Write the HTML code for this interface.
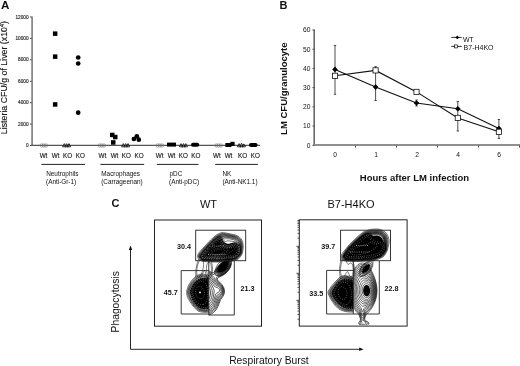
<!DOCTYPE html>
<html><head><meta charset="utf-8">
<style>
html,body{margin:0;padding:0;background:#fff;width:520px;height:366px;overflow:hidden}
svg{display:block;-webkit-font-smoothing:antialiased;will-change:transform}
text{font-family:"Liberation Sans",sans-serif;fill:#111}
.b{font-weight:bold}
</style></head><body>
<svg width="520" height="366" viewBox="0 0 520 366">
<!-- ===== Panel A ===== -->
<text class="b" x="0.9" y="8.8" font-size="11.6">A</text>
<line x1="32.1" y1="16.5" x2="32.1" y2="145.3" stroke="#8a8a8a" stroke-width="1.8"/>
<line x1="31.2" y1="145.3" x2="260" y2="145.3" stroke="#555" stroke-width="1.3"/>
<g stroke="#4a4a4a" stroke-width="1" fill="none">
  <path d="M30 17H31.75M30 38.4H31.75M30 59.8H31.75M30 81.3H31.75M30 102.7H31.75M30 124.1H31.75M30 145.5H31.75"/>
</g>
<g font-size="4.7" text-anchor="end" fill="#222" stroke="#444" stroke-width="0.18">
  <text x="28.5" y="18.6">12000</text>
  <text x="28.5" y="40">10000</text>
  <text x="28.5" y="61.4">8000</text>
  <text x="28.5" y="82.9">6000</text>
  <text x="28.5" y="104.3">4000</text>
  <text x="28.5" y="125.7">2000</text>
  <text x="28.5" y="147.1">0</text>
</g>
<text transform="translate(6.9,77.6) rotate(-90)" font-size="8.8" text-anchor="middle" stroke="#222" stroke-width="0.15">Listeria CFU/g of Liver (x10<tspan font-size="5.5" dy="-3">4</tspan><tspan dy="3">)</tspan></text>
<!-- markers group 1 -->
<g fill="#000">
  <rect x="52.9" y="31.4" width="4.5" height="4.5"/>
  <rect x="52.9" y="54.4" width="4.5" height="4.5"/>
  <rect x="52.9" y="102.2" width="4.5" height="4.5"/>
  <circle cx="78.2" cy="57.5" r="2.35"/>
  <circle cx="78.2" cy="63.5" r="2.35"/>
  <circle cx="78.2" cy="112.7" r="2.35"/>
  <!-- group 2 -->
  <rect x="110.0" y="132.7" width="4.5" height="4.5"/>
  <rect x="113.0" y="134.8" width="4.5" height="4.5"/>
  <rect x="111.0" y="140.2" width="4.5" height="4.5"/>
  <circle cx="136.8" cy="136.3" r="2.35"/>
  <circle cx="133.9" cy="139" r="2.35"/>
  <circle cx="138.8" cy="139.7" r="2.35"/>
  <!-- group 3 -->
  <rect x="167" y="142.6" width="9" height="4"/>
  <rect x="191" y="142.7" width="8.2" height="4" rx="2"/>
  <!-- group 4 -->
  <rect x="225.4" y="143" width="6" height="4"/>
  <rect x="230.4" y="141.8" width="4.2" height="4.2"/>
  <rect x="249" y="142.9" width="8.6" height="4" rx="2"/>
</g>
<g fill="none" stroke="#777" stroke-width="0.6">
  <circle cx="41.6" cy="145.5" r="1.7"/><circle cx="43.8" cy="145.5" r="1.7"/><circle cx="46" cy="145.5" r="1.7"/>
  <circle cx="99.6" cy="145.5" r="1.7"/><circle cx="101.8" cy="145.5" r="1.7"/><circle cx="104" cy="145.5" r="1.7"/>
  <circle cx="157.6" cy="145.5" r="1.7"/><circle cx="159.8" cy="145.5" r="1.7"/><circle cx="162" cy="145.5" r="1.7"/>
  <circle cx="216.4" cy="145.5" r="1.7"/><circle cx="218.6" cy="145.5" r="1.7"/><circle cx="220.8" cy="145.5" r="1.7"/>
</g>
<g fill="none" stroke="#111" stroke-width="0.85">
  <path d="M62.6 146.8L64.3 143.6L66 146.8ZM65 146.8L66.7 143.6L68.4 146.8ZM67.3 146.8L69 143.6L70.7 146.8Z"/>
  <path d="M121.6 146.8L123.3 143.6L125 146.8ZM124 146.8L125.7 143.6L127.4 146.8ZM126.3 146.8L128 143.6L129.7 146.8Z"/>
  <path d="M179.4 146.8L181.1 143.6L182.8 146.8ZM181.8 146.8L183.5 143.6L185.2 146.8ZM184.1 146.8L185.8 143.6L187.5 146.8Z"/>
  <path d="M237.4 146.8L239.1 143.6L240.8 146.8ZM239.8 146.8L241.5 143.2L243.2 146.8ZM242.1 146.8L243.8 143.9L245.5 146.8Z"/>
</g>
<!-- category labels -->
<g font-size="6.3" text-anchor="middle" fill="#222" stroke="#333" stroke-width="0.15">
  <text x="43.5" y="157.8">Wt</text><text x="55.6" y="157.8">Wt</text><text x="67.5" y="157.8">KO</text><text x="80.3" y="157.8">KO</text>
  <text x="102.4" y="157.8">Wt</text><text x="114.5" y="157.8">Wt</text><text x="126.4" y="157.8">KO</text><text x="139.1" y="157.8">KO</text>
  <text x="159.7" y="157.8">Wt</text><text x="171.5" y="157.8">Wt</text><text x="183.4" y="157.8">KO</text><text x="195.8" y="157.8">KO</text>
  <text x="216.9" y="157.8">Wt</text><text x="228.5" y="157.8">Wt</text><text x="242.5" y="157.8">KO</text><text x="255.3" y="157.8">KO</text>
</g>
<g stroke="#222" stroke-width="1">
  <line x1="41.4" y1="164.4" x2="85" y2="164.4"/>
  <line x1="100.4" y1="164.4" x2="144.2" y2="164.4"/>
  <line x1="156.9" y1="164.4" x2="198.5" y2="164.4"/>
  <line x1="215.2" y1="164.4" x2="257.9" y2="164.4"/>
</g>
<g font-size="6.4" fill="#222">
  <text x="46.2" y="175.9">Neutrophils</text><text x="46" y="183.6">(Anti-Gr-1)</text>
  <text x="101.3" y="175.9">Macrophages</text><text x="101.2" y="183.6">(Carrageenan)</text>
  <text x="169.5" y="175.9">pDC</text><text x="169" y="183.6">(Anti-pDC)</text>
  <text x="222.4" y="175.9">NK</text><text x="222.4" y="183.6">(Anti-NK1.1)</text>
</g>

<!-- ===== Panel B ===== -->
<text class="b" x="279.6" y="8.6" font-size="11">B</text>
<line x1="314.2" y1="29.5" x2="314.2" y2="145.5" stroke="#6a6a6a" stroke-width="1.6"/>
<line x1="313.4" y1="145" x2="520" y2="145" stroke="#909090" stroke-width="2.1"/>
<g stroke="#4a4a4a" stroke-width="1" fill="none">
  <path d="M312.5 30H314.5M312.5 49.2H314.5M312.5 68.4H314.5M312.5 87.6H314.5M312.5 106.8H314.5M312.5 126H314.5M312.5 145.3H314.5"/>
  <path d="M355.5 145.5V147.5M396.5 145.5V147.5M437.5 145.5V147.5M478.5 145.5V147.5M519.5 145.5V147.5"/>
</g>
<g font-size="6.7" text-anchor="end" fill="#222">
  <text x="310.5" y="32.4">60</text>
  <text x="310.5" y="51.6">50</text>
  <text x="310.5" y="70.8">40</text>
  <text x="310.5" y="90">30</text>
  <text x="310.5" y="109.2">20</text>
  <text x="310.5" y="128.4">10</text>
  <text x="310.5" y="147.7">0</text>
</g>
<g font-size="6.7" text-anchor="middle" fill="#222">
  <text x="335" y="157.2">0</text>
  <text x="376" y="157.2">1</text>
  <text x="417" y="157.2">2</text>
  <text x="458" y="157.2">4</text>
  <text x="499" y="157.2">6</text>
</g>
<text class="b" transform="translate(286.6,88.7) rotate(-90)" font-size="9.5" text-anchor="middle">LM CFU/granulocyte</text>
<text class="b" x="414.5" y="181.2" font-size="9.5" text-anchor="middle">Hours after LM infection</text>
<!-- error bars -->
<g stroke="#222" stroke-width="0.8" fill="none">
  <path d="M335 45.5V94.3M333.8 45.5H336.2M333.8 94.3H336.2"/>
  <path d="M375.6 66.6V100.5M374.4 66.6H376.8M374.4 100.5H376.8"/>
  <path d="M416.5 100V106M415.3 100H417.7M415.3 106H417.7"/>
  <path d="M457.8 101.5V131M456.6 101.5H459M456.6 131H459"/>
  <path d="M498.9 119.5V138.4M497.7 119.5H500.1M497.7 138.4H500.1"/>
</g>
<!-- lines -->
<g stroke="#111" stroke-width="1.1" fill="none">
  <polyline points="335,69.4 375.6,87.1 416.5,103 457.8,108.7 498.9,128.5"/>
  <polyline points="335,75.8 375.6,70.4 416.5,91.9 457.8,117.9 498.9,131.8"/>
</g>
<g fill="#000">
  <path d="M335 66.6L337.8 69.4L335 72.2L332.2 69.4Z"/>
  <path d="M375.6 84.3L378.4 87.1L375.6 89.9L372.8 87.1Z"/>
  <path d="M416.5 100.2L419.3 103L416.5 105.8L413.7 103Z"/>
  <path d="M457.8 105.9L460.6 108.7L457.8 111.5L455 108.7Z"/>
  <path d="M498.9 125.7L501.7 128.5L498.9 131.3L496.1 128.5Z"/>
</g>
<g fill="#fff" stroke="#111" stroke-width="0.8">
  <rect x="332.4" y="73.2" width="5.2" height="5.2"/>
  <rect x="373" y="67.8" width="5.2" height="5.2"/>
  <rect x="413.9" y="89.3" width="5.2" height="5.2"/>
  <rect x="455.2" y="115.3" width="5.2" height="5.2"/>
  <rect x="496.3" y="129.2" width="5.2" height="5.2"/>
</g>
<!-- legend -->
<g stroke="#111" stroke-width="0.9">
  <line x1="451.3" y1="37.4" x2="461.7" y2="37.4"/>
  <line x1="451.3" y1="46.4" x2="461.7" y2="46.4"/>
</g>
<path d="M457.3 35.6L459.1 37.4L457.3 39.2L455.5 37.4Z" fill="#000"/>
<rect x="454.6" y="44.9" width="3" height="3" fill="#fff" stroke="#111" stroke-width="0.7"/>
<g font-size="7" fill="#111">
  <text x="463" y="42">WT</text>
  <text x="463.6" y="50.3">B7-H4KO</text>
</g>

<!-- ===== Panel C ===== -->
<text class="b" x="111.4" y="206.9" font-size="11">C</text>
<text x="208.5" y="208.2" font-size="11" text-anchor="middle">WT</text>
<text x="351" y="208.2" font-size="11" text-anchor="middle">B7-H4KO</text>
<!-- outer boxes -->
<g fill="none" stroke="#222" stroke-width="1">
  <rect x="154.5" y="220" width="107" height="106.2"/>
  <rect x="299.3" y="219.8" width="107.8" height="106.3"/>
</g>
<!-- KO y ticks -->
<path d="M297.5 319.2H299M297.5 314.4H299M297.5 311.0H299M297.5 308.4H299M297.5 306.3H299M297.5 304.5H299M297.5 302.9H299M297.5 301.5H299M296.4 300.3H299M297.5 292.2H299M297.5 287.4H299M297.5 284.0H299M297.5 281.4H299M297.5 279.3H299M297.5 277.5H299M297.5 275.9H299M297.5 274.5H299M296.4 273.3H299M297.5 265.2H299M297.5 260.4H299M297.5 257.0H299M297.5 254.4H299M297.5 252.3H299M297.5 250.5H299M297.5 248.9H299M297.5 247.5H299M296.4 246.3H299M297.5 238.2H299M297.5 233.4H299M297.5 230.0H299M297.5 227.4H299M297.5 225.3H299M297.5 223.5H299M297.5 221.9H299M297.5 220.5H299" stroke="#222" stroke-width="0.8"/>
<!-- WT contours -->
<defs><clipPath id="k1"><rect x="185" y="259" width="31" height="20"/></clipPath><clipPath id="k2"><rect x="150" y="258" width="58.75" height="72"/></clipPath><clipPath id="k3"><rect x="208.75" y="258" width="56.25" height="72"/></clipPath><clipPath id="k4"><rect x="330" y="259" width="30" height="20"/></clipPath><clipPath id="k5"><rect x="295" y="258" width="58.30000000000001" height="72"/></clipPath><clipPath id="k6"><rect x="353.3" y="258" width="56.69999999999999" height="72"/></clipPath></defs>
<g><path d="M223.2 259.3l-11.4 .1l-7.8 -.5l-1.2 -.3l-1.0 -.6l-.5 -.8l-.2 -1.0l.3 -1.0l.8 -1.2l4.3 -5.4l7.0 -7.2l3.3 -2.6l1.7 -1.0l1.7 -.2l1.3 .4l1.0 1.0l1.0 2.2l.6 .8l1.1 .8l2.0 .9l1.8 0l4.5 -1.3l1.3 -.1l1.7 .5l1.7 1.2l1.0 1.2l.5 1.3l.1 4.7l-.6 2.3l-1.8 2.5l-1.9 1.3l-3.7 1.1l-3.3 .6l-5.3 .3z" fill="#000"/><path d="M225.8 259.3l-13.6 .2l-8.2 -.5l-1.2 -.3l-1.0 -.6l-.7 -.9l-.1 -1.0l.7 -1.7l3.4 -4.5l7.4 -7.8l4.7 -3.9l1.8 -.8l1.5 -.1l1.0 .3l.7 .5l1.8 2.6l1.0 .7l.6 0l1.9 -.6l1.5 0l5.5 .7l1.5 .5l1.2 .7l1.3 1.2l.8 1.0l.5 1.2l.2 3.6l-.3 2.7l-.7 1.7l-1.8 2.1l-1.4 1.1l-1.8 .6l-4.5 .9l-3.7 .4zM223.8 259.5l-12.0 .1l-8.0 -.5l-1.3 -.3l-1.0 -.7l-.6 -.9l-.1 -1.0l.3 -1.0l.7 -1.2l4.2 -5.2l7.0 -7.3l3.2 -2.7l1.8 -1.1l1.5 -.5l1.5 0l1.0 .3l2.2 1.4l2.8 -.2l3.1 .3l3.7 .8l2.2 1.1l1.2 1.0l1.6 1.8l.8 1.3l.4 1.2l.2 1.8l-.1 3.5l-.3 1.5l-.6 1.2l-2.2 2.5l-2.0 1.1l-5.8 1.4l-5.4 .3zM217.8 259.8l-8.8 -.1l-5.8 -.5l-1.2 -.5l-.9 -.7l-.5 -1.0l0 -1.0l.8 -1.8l2.7 -3.4l5.4 -6.0l4.7 -4.6l2.6 -2.0l1.4 -.9l1.6 -.4l1.2 -.1l2.8 .6l3.0 .1l3.2 .5l5.0 1.2l1.2 .7l1.0 .8l1.0 1.3l1.6 2.8l.4 1.4l.1 1.6l0 3.4l-.4 1.8l-.7 1.5l-1.7 2.0l-1.0 .8l-1.3 .6l-5.7 1.4l-5.0 .3l-6.7 .2zM225.5 259.8l-13.0 .1l-8.7 -.4l-1.6 -.5l-1.1 -.8l-.6 -1.0l-.1 -1.2l.4 -1.0l.7 -1.2l4.5 -5.6l7.0 -7.2l3.2 -2.7l1.8 -1.1l1.5 -.5l1.5 -.3l4.5 .2l6.6 1.2l2.4 .6l1.5 .6l1.4 1.0l1.1 1.3l.7 1.4l1.1 2.8l.2 1.7l0 3.6l-.3 1.7l-.4 1.3l-.8 1.2l-1.2 1.5l-1.0 .8l-1.0 .6l-5.8 1.5l-4.5 .4zM225.0 260.0l-12.8 .1l-8.7 -.5l-1.5 -.4l-1.2 -1.0l-.6 -1.0l-.1 -1.2l.3 -1.0l.8 -1.2l4.6 -5.6l7.0 -7.3l3.2 -2.7l2.0 -1.3l3.2 -1.0l2.9 -.1l7.4 1.2l3.0 .8l1.7 .6l1.6 1.1l1.2 1.5l.8 1.5l.8 2.7l.2 2.0l-.1 3.8l-.3 1.8l-.5 1.2l-2.1 2.8l-1.0 .8l-1.0 .5l-5.8 1.5l-5.0 .4zM224.8 260.3l-12.3 .1l-9.0 -.5l-1.7 -.6l-1.3 -1.0l-.7 -1.3l0 -1.2l.7 -1.6l1.9 -2.4l2.7 -3.3l4.2 -4.5l2.9 -3.0l2.6 -2.2l1.7 -1.4l1.7 -1.0l3.3 -1.1l2.5 -.2l7.7 1.4l3.1 .8l1.7 .6l1.5 1.1l1.5 1.8l.7 1.4l.6 2.3l.3 2.5l-.1 3.8l-.3 2.0l-.6 1.4l-2.2 2.8l-1.1 .9l-1.0 .5l-5.8 1.5l-5.2 .4zM225.5 260.5l-11.3 .2l-6.2 -.2l-4.8 -.4l-1.7 -.6l-1.3 -1.0l-.7 -1.3l-.1 -1.4l.7 -1.6l1.3 -1.7l3.3 -4.0l4.4 -4.7l2.9 -3.0l2.8 -2.4l2.0 -1.6l1.4 -.9l3.0 -1.1l2.6 -.2l7.4 1.3l3.6 .8l1.7 .7l1.5 .9l1.4 1.5l.9 1.4l.6 1.8l.5 2.5l.1 2.0l-.4 4.5l-.6 2.0l-.9 1.5l-1.3 1.5l-1.1 .9l-1.2 .7l-5.8 1.5l-4.7 .4zM217.2 261.0l-9.0 -.2l-4.2 -.3l-1.8 -.3l-1.4 -.8l-1.2 -1.2l-.6 -1.4l.1 -1.6l.9 -1.7l3.5 -4.3l7.7 -8.1l5.0 -4.5l3.6 -1.9l1.4 -.5l1.6 -.2l5.0 .7l7.7 1.7l1.7 .8l1.6 1.1l1.4 1.7l.9 1.8l.6 2.4l.2 2.8l-.3 4.2l-.4 2.0l-.9 1.8l-1.8 2.2l-1.3 1.1l-1.4 .8l-5.8 1.4l-3.0 .3l-9.8 .2zM226.2 261.3l-11.4 .2l-7.0 -.3l-4.8 -.4l-2.0 -.7l-1.7 -1.3l-.8 -1.6l0 -1.7l.6 -1.5l1.0 -1.5l4.1 -4.7l4.7 -5.0l3.1 -3.1l3.0 -2.7l1.8 -1.3l1.7 -1.0l2.7 -1.1l2.6 -.2l7.0 1.3l5.7 1.5l1.7 .9l1.6 1.4l1.3 1.7l.8 2.0l.5 2.8l.1 2.2l-.6 4.8l-.5 2.0l-.9 1.5l-1.4 1.7l-1.1 1.1l-1.2 .8l-2.0 .7l-4.0 1.1l-4.6 .4zM219.2 262.0l-4.0 .1l-7.0 -.3l-4.2 -.3l-2.2 -.4l-2.2 -1.1l-1.4 -1.5l-.6 -1.7l.2 -2.0l.8 -1.6l1.8 -2.2l3.8 -4.2l6.4 -6.8l4.9 -4.4l1.5 -1.0l2.2 -1.2l2.8 -.8l1.5 0l2.0 .3l9.7 2.0l2.0 .7l1.8 1.1l1.8 1.8l1.3 2.0l.7 2.3l.4 2.7l0 2.7l-.8 4.8l-.8 2.0l-1.2 1.8l-1.6 1.8l-1.6 1.0l-1.7 .7l-3.7 1.0l-3.6 .6l-9.0 .1z" fill="none" stroke="#000" stroke-width="0.55"/><path d="M216.5 259.0l-7.3 -.1l-5.2 -.3l-1.0 -.3l-.8 -.4l-.5 -.7l-.1 -.7l.2 -1.0l.6 -1.0l3.8 -5.0l7.0 -7.3l4.3 -3.4l1.0 -.5l1.0 -.2l.7 0l.8 .3l.7 .8l1.0 2.6l.7 1.0l1.6 1.2l2.0 1.1l1.2 .2l1.8 -.2l1.2 -.4l2.6 -1.1l1.4 -.2l1.0 .2l1.0 .5l1.0 .8l.7 .9l.4 1.0l.1 1.2l0 3.0l-.2 1.5l-.4 1.0l-.8 1.2l-1.2 1.3l-1.0 .8l-2.0 .7l-5.3 1.1l-4.5 .3l-7.5 .1zM219.0 258.5l-8.5 .1l-6.3 -.5l-1.0 -.2l-.6 -.4l-.3 -.5l-.1 -.8l.3 -.9l.7 -1.2l3.8 -4.8l7.0 -7.1l3.0 -2.5l1.8 -.9l1.2 -.1l.8 .5l.4 .6l.9 2.2l.7 1.1l1.7 1.4l2.3 1.4l1.4 .2l2.0 -.3l1.6 -.4l2.2 -1.1l1.0 -.2l1.8 .5l1.0 .7l.6 .7l.4 .9l.1 1.1l.1 2.8l-.2 1.6l-1.0 1.9l-2.0 1.9l-2.0 .8l-4.8 1.0l-4.8 .4l-5.2 .1zM217.5 258.0l-7.5 0l-5.2 -.4l-1.4 -.4l-.4 -.4l-.1 -.6l.2 -.7l.7 -1.1l3.4 -4.4l6.8 -6.9l4.0 -3.2l1.2 -.4l.9 .3l.6 .7l.9 2.3l.8 1.0l2.6 1.9l1.8 .9l1.4 .2l2.0 -.3l4.8 -1.6l1.5 .3l.8 .6l.6 .7l.4 1.7l0 2.8l-.2 1.2l-1.1 2.0l-1.8 1.6l-2.1 .7l-4.9 1.0l-10.7 .5zM217.8 257.3l-5.3 .1l-4.2 -.2l-3.5 -.4l-.5 -.3l-.2 -.5l.2 -.8l.7 -1.2l2.8 -3.4l6.7 -6.2l3.8 -3.2l.7 -.2l.5 .2l1.1 2.0l.8 1.0l3.6 2.3l1.8 .8l1.4 .2l2.3 -.2l1.5 -.4l2.0 -.9l1.0 -.2l1.2 .3l.9 .9l.2 1.8l-.5 3.2l-1.0 1.6l-1.6 1.1l-5.8 1.5l-4.6 .6l-6.0 .5zM216.5 256.8l-4.3 .1l-3.4 -.2l-2.8 -.7l-.4 -.2l-.1 -.6l.5 -1.2l1.5 -2.0l1.3 -1.3l2.0 -1.5l2.7 -1.4l6.7 -2.3l.8 0l1.0 .2l4.0 1.9l1.8 .4l3.7 -.2l3.3 -1.1l.5 .1l.5 .4l.1 .8l-.7 .7l-6.4 4.4l-2.4 1.4l-2.2 .9l-2.1 .6l-5.6 .8zM215.0 256.0l-3.0 0l-2.2 -.5l-1.0 -.7l-.2 -.6l.1 -.7l.5 -.7l.9 -1.0l2.9 -1.8l3.5 -1.4l5.0 -1.2l1.3 -.1l1.1 .2l3.6 1.5l.6 .5l-.1 .7l-1.1 1.3l-1.6 1.3l-2.1 1.1l-4.0 1.5l-4.2 .6zM216.5 254.8l-2.3 0l-1.4 -.2l-.9 -.6l-.2 -.5l.1 -.5l.7 -1.0l1.5 -1.0l1.8 -.8l2.0 -.7l2.4 -.4l2.3 -.1l1.3 .2l.8 .6l.1 .7l-.4 .7l-1.8 1.6l-2.7 1.2l-3.3 .8z" fill="none" stroke="#fff" stroke-width="0.38" stroke-dasharray="0.8 1.5"/></g>
<g clip-path="url(#k1)"><path d="M198.8 277.3l-.6 -.1l-.6 -.4l-.7 -2.0l-.2 -3.3l.4 -3.7l.8 -3.8l1.3 -3.0l1.3 -1.9l.7 -.4l.6 0l.4 .3l.6 .6l.6 1.9l.2 2.7l-.2 3.0l-.9 3.8l-1.3 3.2l-1.2 2.1l-.8 .7l-.4 .3zM209.0 275.8l-.5 -.2l-.5 -.4l-.8 -1.4l-.6 -2.6l-.2 -3.0l.2 -2.2l.5 -2.0l.9 -1.4l.5 -.4l.5 0l.5 .1l.5 .5l.8 1.5l.5 2.2l.1 2.5l-.1 2.5l-.6 2.3l-.7 1.4l-.5 .4l-.5 .2zM198.8 280.1l-1.0 .1l-.8 -.4l-.5 -.9l-.5 -1.4l-.4 -4.0l.4 -4.7l1.1 -5.3l1.5 -4.3l.9 -1.5l1.0 -1.2l1.0 -.7l.7 -.1l.8 .4l.5 .7l1.5 3.2l.5 .8l.5 0l1.8 -1.4l1.0 -.3l1.0 .3l1.0 1.1l.9 2.3l.6 3.2l.2 3.5l-.3 3.3l-.5 2.4l-.8 2.0l-1.1 1.4l-1.0 .2l-1.0 -.6l-.8 -1.1l-.9 -2.1l-1.1 -3.9l-.2 -.4l-.3 -.1l-.3 .1l-.7 1.2l-2.7 5.9l-1.0 1.5l-1.0 .8z" fill="none" stroke="#000" stroke-width="0.5"/></g>
<g><path d="M220.8 272.5l-1.6 .2l-1.0 -.1l-.4 -.3l-.3 -.5l0 -1.3l.4 -1.7l.7 -1.8l1.0 -1.8l1.6 -1.6l2.8 -1.6l2.8 -.7l1.0 0l.7 .2l.4 1.0l-.2 2.0l-.8 2.3l-1.1 2.0l-.8 1.0l-1.5 1.1l-2.0 1.0l-1.7 .6z" fill="#000"/><path d="M219.8 273.3l-1.6 .1l-1.0 -.3l-.3 -.6l-.1 -.7l.1 -1.6l.6 -2.0l1.0 -2.0l1.1 -1.7l.9 -.9l1.3 -.9l3.0 -1.5l2.7 -.6l1.0 .1l.7 .3l.4 1.5l-.4 2.3l-1.0 2.4l-1.4 2.3l-1.0 1.0l-2.0 1.3l-2.0 .9l-2.0 .6zM219.0 275.3l-2.0 .2l-1.5 -.3l-.5 -.5l-.3 -1.2l.2 -2.3l.7 -2.4l1.2 -2.6l1.4 -2.2l1.0 -1.2l1.6 -1.2l2.0 -1.2l2.2 -1.0l2.0 -.6l1.8 -.3l1.4 .1l1.0 .4l.4 .8l.1 1.2l-.5 3.0l-1.3 3.2l-1.7 2.8l-1.4 1.5l-2.3 1.6l-2.7 1.3l-2.8 .9z" fill="none" stroke="#000" stroke-width="0.6"/></g>
<g clip-path="url(#k2)"><path d="M206.5 309.5l-2.7 .1l-3.6 -.8l-1.7 -1.0l-2.5 -2.2l-1.9 -2.4l-2.3 -4.0l-1.1 -3.0l-.9 -3.2l0 -1.8l.4 -1.7l1.4 -3.5l1.2 -2.0l2.2 -2.6l1.8 -1.5l2.4 -1.4l2.3 -.6l3.7 -.2l2.8 .4l.8 .3l.6 .6l.6 1.5l.3 12.7l-.2 13.0l-.3 1.4l-.8 1.0l-1.0 .6l-1.5 .3z" fill="#000"/><path d="M205.8 310.0l-2.8 -.1l-3.0 -.7l-1.8 -1.1l-2.4 -2.2l-1.9 -2.4l-2.5 -4.3l-1.3 -3.2l-.7 -3.0l0 -2.0l.5 -2.0l1.5 -3.5l1.4 -2.1l2.2 -2.6l1.8 -1.5l2.4 -1.4l2.3 -.6l4.0 0l2.7 .5l.8 .4l.6 .6l.5 .7l.2 1.0l.2 13.5l-.2 12.5l-.4 1.5l-.9 1.1l-1.2 .6l-2.0 .3zM207.2 310.3l-3.0 .1l-3.4 -.5l-1.8 -.7l-2.0 -1.6l-2.6 -2.6l-2.6 -4.0l-1.6 -3.2l-1.2 -3.6l-.2 -2.2l.2 -1.8l1.4 -3.7l1.2 -2.3l2.2 -3.0l2.0 -1.9l2.4 -1.7l2.3 -.8l3.0 -.2l4.5 .7l1.0 .4l.7 .5l.5 .8l.3 1.0l.2 2.0l.1 10.8l-.2 13.7l-.4 1.5l-.7 1.2l-1.0 .7l-1.3 .4zM207.5 310.8l-3.3 .1l-3.4 -.5l-1.8 -.7l-2.0 -1.4l-2.7 -2.8l-2.9 -4.3l-1.9 -3.7l-1.0 -3.0l-.3 -2.3l.2 -2.0l1.5 -4.0l1.2 -2.2l2.4 -3.2l2.0 -2.1l2.5 -1.8l2.5 -.9l2.7 -.1l5.0 1.0l1.0 .5l.8 .7l.5 .9l.3 1.0l.3 13.0l-.2 13.5l-.3 1.5l-.8 1.5l-1.0 .9l-1.3 .4zM207.0 311.5l-3.2 0l-3.8 -.7l-1.8 -.8l-2.0 -1.6l-2.3 -2.4l-3.5 -5.2l-2.0 -4.0l-.7 -2.3l-.2 -2.5l.3 -2.0l1.6 -4.2l1.2 -2.3l2.6 -3.5l2.3 -2.2l2.5 -1.8l2.5 -.8l1.5 -.1l1.5 .1l3.5 .6l1.8 .6l1.0 .6l.6 .8l.8 2.0l.2 2.0l.1 11.0l-.2 14.0l-.5 2.0l-1.0 1.7l-1.0 .6l-1.8 .4zM207.8 312.3l-3.6 .1l-3.4 -.5l-2.3 -.7l-1.7 -1.2l-3.1 -3.0l-3.6 -5.0l-2.3 -4.2l-.9 -2.8l-.3 -2.8l.2 -2.0l1.5 -4.2l1.3 -2.5l2.9 -4.0l2.0 -2.1l2.7 -2.1l2.8 -.9l1.8 -.3l1.4 .1l3.6 .7l2.2 .7l1.0 .6l.8 .8l.6 1.0l.4 1.5l.2 2.0l.1 12.0l-.2 13.5l-.5 2.2l-.9 1.8l-1.0 .8l-1.7 .5z" fill="none" stroke="#000" stroke-width="0.55"/><path d="M206.0 309.0l-2.8 -.1l-3.0 -.7l-1.7 -1.1l-2.5 -2.2l-1.6 -2.1l-2.1 -3.8l-1.1 -3.2l-.8 -3.3l0 -1.7l.8 -2.3l1.2 -2.7l1.4 -2.0l2.0 -2.3l1.7 -1.3l2.5 -1.2l2.0 -.5l3.5 -.2l2.5 .3l1.2 .9l.5 1.5l.2 13.2l-.2 12.0l-.4 1.3l-.7 .7l-1.1 .5l-1.5 .3zM206.2 307.5l-2.4 .1l-2.8 -.6l-1.7 -1.0l-2.3 -2.0l-1.5 -1.9l-2.0 -3.5l-1.0 -2.8l-.8 -3.0l0 -1.6l.3 -1.3l1.2 -3.1l1.0 -1.7l1.8 -2.0l1.5 -1.3l1.8 -1.0l2.2 -.8l3.0 -.2l2.5 .1l1.0 .5l.5 1.1l.4 12.0l-.3 11.7l-.3 1.0l-.3 .6l-.7 .4l-1.1 .3zM203.2 304.5l-1.4 .2l-1.3 -.2l-1.8 -1.0l-1.7 -1.5l-1.5 -2.1l-1.3 -2.4l-1.0 -3.0l-.4 -2.3l.1 -1.4l.6 -2.1l.7 -1.7l1.0 -1.5l1.6 -1.7l1.3 -1.0l1.5 -.8l1.6 -.4l1.3 .1l1.3 .4l1.0 .7l1.0 1.1l.7 1.2l.5 1.4l.6 3.5l.1 5.8l-.2 2.4l-.5 2.5l-.5 1.3l-.7 1.0l-1.3 1.0l-1.3 .5zM200.5 298.8l-1.7 -.5l-1.6 -1.3l-1.1 -2.0l-.6 -2.2l0 -2.3l.7 -2.1l1.3 -1.5l1.5 -.6l1.8 .2l1.0 .5l.7 .8l1.3 2.0l.7 2.4l-.1 2.6l-.7 2.0l-.7 .9l-.8 .6l-.7 .3l-1.0 .2z" fill="none" stroke="#fff" stroke-width="0.38" stroke-dasharray="0.8 1.5"/></g>
<g clip-path="url(#k3)"><path d="M205.0 298.5l-1.8 0l-1.0 -.4l-.8 -.6l-1.5 -1.7l-.9 -2.6l-.2 -2.4l.5 -2.6l1.2 -1.8l.7 -.6l1.0 -.4l1.8 .1l1.8 1.1l1.4 1.9l.8 2.3l.2 2.4l-.5 2.6l-1.1 1.7l-.8 .7l-.8 .3zM205.8 301.5l-1.3 .2l-1.5 -.1l-1.5 -.7l-1.2 -.9l-1.2 -1.2l-1.0 -1.6l-.8 -1.7l-.5 -1.7l-.2 -2.0l-.1 -1.8l.3 -1.8l.5 -1.7l.8 -1.5l.9 -1.2l1.2 -.9l1.3 -.5l1.3 -.1l1.4 .2l1.3 .6l1.3 .9l1.1 1.2l1.0 1.6l.8 1.7l.5 1.7l.3 1.8l0 2.0l-.3 1.8l-.5 1.7l-.8 1.5l-.9 1.2l-1.0 .8l-1.2 .5zM205.5 304.0l-1.5 .1l-1.8 -.5l-1.7 -.9l-1.5 -1.2l-1.4 -1.7l-1.1 -2.0l-.9 -2.3l-.5 -2.3l-.2 -2.2l0 -2.2l.5 -2.3l.7 -2.0l1.1 -1.7l1.3 -1.4l1.5 -1.0l1.5 -.4l1.5 -.1l1.8 .5l1.7 .9l1.5 1.2l1.4 1.7l1.2 2.0l1.0 2.3l.5 2.0l.2 2.3l-.2 2.4l-.5 2.3l-.7 2.0l-1.1 1.7l-1.3 1.4l-1.5 1.0l-1.5 .4zM222.0 271.0l-1.0 -.2l-.3 -.6l.1 -1.0l.5 -1.0l.8 -1.0l1.1 -.8l1.0 -.4l1.0 .1l.4 .4l.1 .7l-.6 1.6l-1.4 1.4l-1.7 .8zM205.2 306.0l-2.0 -.1l-2.0 -.7l-1.7 -1.1l-1.7 -1.6l-1.5 -2.0l-1.2 -2.3l-.9 -2.4l-.6 -2.8l-.2 -2.8l.2 -2.4l.6 -2.6l.8 -2.2l1.2 -1.9l1.6 -1.5l1.7 -1.1l1.7 -.5l1.8 0l2.0 .5l1.8 .9l1.7 1.4l1.5 1.7l1.7 2.5l1.7 3.2l.7 2.0l0 2.0l-.7 4.6l-.7 2.4l-1.0 2.3l-1.2 1.7l-1.7 1.6l-1.8 .9l-1.8 .3zM221.8 272.3l-1.6 0l-.4 -.3l-.4 -.5l0 -1.5l.8 -1.8l1.5 -1.7l1.8 -1.3l1.7 -.5l1.3 .3l.5 .8l0 .7l-.2 1.0l-.6 1.3l-2.0 2.1l-1.2 .9l-1.2 .5zM206.8 307.5l-2.3 .2l-2.3 -.4l-2.2 -1.0l-1.9 -1.5l-1.9 -2.1l-1.5 -2.5l-1.2 -2.7l-.8 -3.0l-.4 -3.0l0 -3.3l.5 -3.0l.8 -2.4l1.2 -2.3l1.7 -2.0l2.0 -1.4l2.0 -.7l1.7 -.1l1.8 .2l1.8 .6l1.7 1.0l1.5 1.1l1.2 1.4l4.0 5.4l1.3 .9l2.8 1.1l.8 .8l.5 1.0l0 1.0l-.5 1.0l-.6 .5l-2.0 1.0l-.8 .9l-2.1 6.6l-1.6 3.0l-1.2 1.4l-1.3 1.0l-1.3 .8l-1.4 .5zM221.0 273.3l-1.0 0l-.8 -.2l-.5 -.3l-.3 -.8l.1 -1.8l1.1 -2.2l1.7 -2.0l2.2 -1.6l1.3 -.5l1.0 -.2l.7 .1l.7 .3l.6 .7l.2 1.2l-.4 1.5l-.8 1.5l-1.3 1.6l-1.5 1.3l-1.5 .9l-1.5 .5zM205.8 309.3l-2.6 -.2l-2.2 -.7l-2.2 -1.4l-2.3 -2.0l-1.8 -2.5l-1.5 -2.7l-1.1 -3.0l-.8 -3.6l-.2 -3.4l.3 -3.3l.6 -3.0l1.2 -2.7l1.4 -2.3l1.9 -1.9l2.0 -1.2l2.3 -.6l1.7 -.1l2.0 .4l2.0 .8l1.8 1.1l2.5 2.3l4.0 5.0l1.2 .9l2.5 1.2l1.1 .8l.9 1.3l.5 1.5l0 1.5l-.6 1.3l-.9 .9l-2.1 1.3l-.9 1.1l-2.2 6.1l-.9 1.8l-1.0 1.5l-1.5 1.5l-1.7 1.2l-1.7 .7l-1.7 .4zM221.0 274.0l-1.2 .2l-1.0 -.1l-.8 -.5l-.4 -.6l-.2 -1.0l.2 -1.0l.4 -1.2l.7 -1.6l2.1 -2.4l2.4 -1.9l2.6 -.9l1.0 -.1l1.0 .3l.8 1.0l.2 1.3l-.3 1.5l-.9 1.8l-1.4 1.8l-1.7 1.6l-1.7 1.1l-1.8 .7zM207.0 310.5l-2.5 .2l-2.7 -.6l-2.6 -1.2l-2.4 -2.0l-2.1 -2.4l-1.8 -3.0l-1.5 -3.5l-.9 -3.5l-.4 -3.7l.1 -3.6l.6 -3.4l1.2 -3.3l1.6 -2.7l1.9 -2.1l2.3 -1.5l2.4 -.8l2.0 -.1l2.3 .4l2.3 .8l2.0 1.3l2.6 2.4l3.8 4.9l1.3 .9l2.5 1.5l1.2 1.0l1.1 1.5l.6 1.8l.1 1.7l-.5 1.6l-1.0 1.3l-2.1 1.6l-.9 1.1l-.7 1.4l-1.7 4.7l-1.5 2.8l-1.5 1.8l-1.6 1.2l-1.7 1.0l-1.8 .5zM220.5 274.8l-1.3 .2l-1.2 -.2l-.8 -.4l-.5 -.9l-.1 -1.3l.3 -1.2l.6 -1.5l.8 -1.5l2.4 -2.8l2.8 -2.0l1.5 -.7l1.2 -.2l1.3 0l1.0 .4l.8 1.1l.2 1.4l-.6 2.0l-1.0 2.0l-1.7 2.0l-1.7 1.6l-2.0 1.2l-2.0 .8zM205.8 312.0l-2.8 -.2l-2.8 -1.0l-2.4 -1.6l-2.6 -2.4l-2.0 -2.8l-1.8 -3.5l-1.2 -3.5l-.8 -3.8l-.2 -3.7l.2 -3.7l.8 -3.6l1.3 -3.2l1.8 -2.8l2.2 -2.1l2.5 -1.4l2.5 -.7l2.5 .1l2.2 .5l2.3 1.0l2.5 1.7l2.6 2.5l3.3 4.4l3.6 2.6l1.3 1.2l1.3 2.0l.6 2.0l0 2.0l-.6 1.8l-.9 1.2l-2.1 2.0l-.9 1.0l-2.3 6.2l-1.9 3.2l-1.8 1.9l-2.0 1.4l-2.2 .9l-2.2 .4zM219.0 275.8l-1.2 0l-1.2 -.3l-.6 -.6l-.3 -.9l.1 -1.5l.5 -1.7l1.8 -3.3l2.7 -2.9l3.0 -2.0l1.4 -.7l1.6 -.3l1.2 .1l1.0 .4l.6 .7l.4 .7l0 1.7l-.6 2.3l-1.4 2.3l-1.9 2.2l-2.3 1.8l-2.6 1.4l-2.2 .6zM205.8 313.3l-3.0 -.4l-2.8 -1.0l-2.8 -1.7l-2.5 -2.4l-2.3 -3.3l-1.8 -3.5l-1.3 -3.8l-.8 -4.0l-.2 -4.2l.3 -4.0l.8 -3.5l1.5 -3.5l1.9 -2.8l2.2 -2.2l2.5 -1.4l2.7 -.8l3.0 .1l3.0 .8l2.6 1.4l4.2 3.1l1.1 1.3l1.4 2.5l.9 1.2l3.8 3.3l1.4 1.5l1.2 2.0l.5 2.2l0 2.0l-.6 2.0l-.8 1.3l-2.1 2.2l-.8 1.1l-2.4 6.2l-1.9 3.2l-1.9 2.2l-2.3 1.5l-2.3 1.0l-2.4 .4zM207.2 314.3l-2.2 .1l-2.2 -.3l-2.3 -.8l-2.3 -1.2l-2.1 -1.6l-1.9 -2.0l-1.8 -2.3l-1.6 -2.7l-1.2 -2.7l-1.1 -3.3l-.7 -3.3l-.3 -3.2l0 -3.2l.3 -3.3l.6 -2.7l1.0 -2.8l1.8 -3.5l2.4 -2.7l2.6 -1.9l1.8 -.8l1.5 -.3l2.7 -.2l3.0 .6l2.8 1.2l4.2 2.7l.8 .3l.8 0l.7 -.8l1.4 -3.1l1.4 -2.5l1.5 -2.0l2.0 -1.9l2.2 -1.6l2.2 -1.1l2.0 -.4l1.8 .3l.8 .5l.5 .7l.3 1.0l0 1.3l-.8 2.7l-1.7 2.7l-2.0 2.3l-2.3 1.8l-3.0 1.6l-3.8 1.2l-.6 .4l-.2 .5l.1 1.2l.9 1.6l4.1 4.0l1.0 1.2l.8 1.5l.6 1.7l.2 1.8l-.1 1.8l-.4 1.4l-.9 1.6l-2.7 3.4l-2.5 6.6l-1.1 2.0l-1.2 1.7l-1.8 1.9l-1.7 1.3l-2.0 1.0l-2.3 .6zM206.5 315.5l-2.5 -.1l-2.2 -.5l-2.3 -.9l-2.3 -1.4l-2.0 -1.7l-2.0 -2.1l-1.8 -2.6l-1.5 -2.7l-1.3 -3.0l-.9 -3.3l-.7 -3.0l-.3 -3.4l0 -3.3l.3 -3.3l.7 -3.0l.9 -2.7l1.5 -3.0l1.9 -2.6l2.2 -2.0l2.6 -1.5l1.7 -.6l1.7 -.3l1.8 0l2.0 .2l3.2 1.2l4.8 2.8l1.2 .2l1.0 -.8l2.4 -3.9l1.5 -2.0l1.7 -1.6l1.7 -1.5l2.3 -1.5l2.0 -.8l2.0 -.3l1.5 .3l.8 .4l.7 .8l.3 1.0l.1 1.0l-.5 2.5l-1.4 2.7l-1.8 2.4l-2.3 2.1l-2.4 1.7l-4.3 2.1l-.6 .5l-.4 .8l.2 1.0l.5 1.0l3.8 3.9l1.7 2.8l.5 1.7l.3 2.0l-.2 1.8l-.5 1.8l-.8 1.5l-2.5 3.5l-2.7 7.0l-1.2 2.2l-1.3 1.8l-1.8 1.7l-2.3 1.6l-2.2 .9l-2.5 .5z" fill="none" stroke="#000" stroke-width="0.65"/></g>
<circle cx='200' cy='292.4' r='0.9' fill='#fff'/><path d='M208 254.5h18M212 246h12' stroke='#fff' stroke-width='0.5' stroke-dasharray='1 1.2'/>
<g><path d="M361.0 258.8l-9.5 0l-4.5 -.2l-1.2 -.4l-.8 -.4l-.4 -.8l-.1 -.8l.5 -1.2l1.1 -1.8l3.1 -4.2l1.8 -2.2l7.8 -7.2l4.2 -3.5l1.8 -1.1l2.2 -.7l2.5 0l1.3 .3l2.4 1.1l3.6 -.1l2.0 .4l1.4 .5l1.0 .7l.8 1.1l2.0 4.2l.5 2.3l.4 3.0l-.1 1.4l-.4 1.3l-1.4 2.3l-1.0 1.3l-1.0 .8l-1.2 .7l-5.8 2.1l-13.0 1.1z" fill="#000"/><path d="M362.2 258.8l-10.2 .1l-5.0 -.3l-1.2 -.3l-.8 -.4l-.4 -.7l-.2 -1.0l.5 -1.2l.9 -1.5l3.1 -4.3l2.1 -2.4l7.5 -7.1l4.3 -3.5l1.7 -1.2l2.0 -.7l2.7 -.2l3.6 .7l3.2 0l2.2 .2l1.8 .5l1.3 .7l1.2 1.6l1.5 4.1l.6 2.3l.4 3.6l0 1.2l-.4 1.2l-2.4 3.7l-1.0 1.0l-1.2 .7l-5.8 2.1l-2.2 .4l-9.8 .7zM359.0 259.0l-9.0 -.1l-3.5 -.3l-1.0 -.3l-.8 -.5l-.3 -.8l0 -1.0l.5 -1.2l1.7 -2.6l2.6 -3.6l1.8 -2.0l7.5 -7.0l4.3 -3.5l1.7 -1.2l1.7 -.7l2.0 -.3l4.0 .3l4.6 -.1l1.6 .1l1.4 .4l1.3 .6l.9 .8l1.0 1.4l.8 2.2l.8 3.6l.5 4.8l-.1 1.2l-.5 1.4l-1.4 2.4l-1.1 1.3l-1.0 .8l-1.2 .7l-5.8 2.1l-4.0 .4l-11.0 .7zM361.5 259.0l-10.0 0l-4.7 -.2l-1.3 -.4l-.7 -.5l-.5 -.7l-.1 -1.0l.5 -1.2l.9 -1.5l3.1 -4.3l2.1 -2.5l7.7 -7.3l4.3 -3.4l1.7 -1.2l1.5 -.6l2.0 -.4l8.2 -.2l3.3 .4l1.3 .5l1.2 .8l1.2 1.7l1.0 2.5l.5 3.0l.5 5.3l0 1.2l-.4 1.2l-1.1 2.0l-1.3 1.8l-.9 .9l-1.3 .8l-6.0 2.2l-2.2 .4l-10.5 .7zM362.8 259.0l-5.0 .2l-7.6 -.1l-3.4 -.2l-1.3 -.3l-.9 -.6l-.4 -.8l-.1 -1.0l.4 -1.2l1.2 -1.8l3.2 -4.4l1.9 -2.2l7.4 -7.1l4.6 -3.7l1.7 -1.2l1.5 -.6l2.0 -.4l8.2 -.4l3.3 .4l1.6 .6l1.1 .8l1.3 1.7l1.0 2.8l.4 2.3l.4 6.0l0 1.2l-.4 1.2l-2.3 3.8l-1.1 1.0l-1.3 .8l-5.7 2.2l-2.3 .3l-9.4 .7zM360.5 259.3l-9.7 -.1l-4.3 -.2l-1.3 -.4l-.7 -.6l-.5 -.8l0 -1.0l.4 -1.2l1.0 -1.5l3.2 -4.5l2.1 -2.5l7.5 -7.2l6.0 -4.7l1.8 -.7l2.0 -.4l4.8 -.6l3.0 -.1l2.2 .1l1.5 .3l1.7 .7l1.3 .9l1.3 1.7l1.1 3.3l.3 2.0l.3 6.0l-.2 1.4l-.4 1.3l-2.4 3.8l-1.0 .9l-1.3 .7l-6.0 2.2l-2.2 .4l-11.5 .8zM362.5 259.3l-3.7 .1l-6.8 0l-5.5 -.3l-1.2 -.3l-.8 -.6l-.6 -1.0l-.1 -1.0l.5 -1.2l1.1 -1.8l3.2 -4.4l1.9 -2.3l7.5 -7.1l4.2 -3.5l2.0 -1.4l1.6 -.7l2.0 -.5l4.4 -.7l2.8 -.1l2.5 0l1.7 .3l1.8 .6l1.5 .9l.7 .8l.8 1.1l1.2 3.6l.3 2.0l.1 5.7l-.1 1.5l-.4 1.2l-2.2 3.8l-1.1 1.1l-1.3 .8l-6.0 2.3l-2.3 .4l-9.7 .7zM362.0 259.5l-10.5 .1l-5.3 -.3l-1.2 -.4l-.9 -.7l-.5 -1.0l0 -1.0l.4 -1.2l1.1 -1.8l3.3 -4.4l2.0 -2.6l7.6 -7.1l4.5 -3.7l1.7 -1.2l2.0 -.9l3.6 -.8l2.4 -.4l2.8 -.1l2.8 0l1.7 .3l1.8 .7l1.6 1.0l1.1 1.2l.9 1.8l.8 2.8l.3 2.2l-.2 6.0l-.2 1.5l-.7 1.7l-1.9 3.0l-1.2 1.2l-1.3 .8l-6.0 2.2l-2.5 .4l-10.0 .7zM361.8 259.8l-10.6 0l-5.2 -.3l-1.2 -.4l-1.0 -.9l-.5 -1.0l0 -1.2l.6 -1.2l1.5 -2.3l3.2 -4.5l1.7 -2.0l7.5 -7.1l4.4 -3.7l2.0 -1.4l2.0 -.9l3.8 -.9l2.2 -.4l2.6 -.1l3.0 .1l1.7 .2l2.0 .8l1.7 1.0l1.2 1.4l.9 1.8l.9 3.0l.2 2.2l-.5 7.5l-1.0 2.3l-1.8 2.7l-1.1 1.1l-1.2 .7l-6.0 2.3l-2.8 .4l-10.2 .8zM362.0 260.0l-3.5 .2l-7.3 -.1l-5.4 -.4l-1.3 -.4l-1.0 -.9l-.5 -1.2l0 -1.2l.5 -1.2l1.3 -2.0l3.3 -4.6l2.1 -2.4l7.6 -7.2l4.4 -3.8l2.0 -1.4l2.0 -.9l3.8 -1.0l2.2 -.4l2.6 -.1l3.0 .1l1.7 .2l2.3 .9l1.7 1.0l1.2 1.3l.9 1.7l1.0 3.3l.3 2.3l-.7 7.7l-.9 2.0l-1.9 3.0l-1.2 1.2l-1.4 .9l-6.0 2.3l-2.8 .4l-10.0 .7zM363.0 260.3l-5.5 .2l-7.7 -.2l-4.0 -.3l-1.6 -.5l-1.0 -.8l-.6 -1.2l0 -1.5l.5 -1.2l1.0 -1.6l3.8 -5.2l2.1 -2.5l7.8 -7.4l4.4 -3.8l2.0 -1.4l2.0 -.9l3.6 -1.0l2.2 -.4l2.8 -.1l3.0 .1l2.0 .3l2.0 .7l2.0 1.2l1.2 1.2l1.1 2.0l1.0 3.2l.3 2.6l-1.0 8.0l-.8 2.0l-1.8 2.7l-1.0 1.2l-1.3 .9l-6.3 2.5l-2.7 .5l-9.5 .7zM361.8 260.8l-3.6 .1l-7.0 -.1l-6.0 -.4l-1.4 -.6l-1.2 -1.0l-.6 -1.6l.1 -1.4l.6 -1.3l1.0 -1.5l3.6 -5.0l2.3 -2.8l7.9 -7.5l4.5 -3.8l2.2 -1.6l2.3 -.9l3.5 -1.0l2.2 -.4l3.3 -.1l2.7 .1l2.0 .4l2.3 .9l1.7 1.1l1.4 1.4l1.2 2.2l1.0 3.2l.3 2.6l-1.2 8.0l-1.0 2.2l-1.9 3.0l-1.2 1.2l-1.3 .9l-6.5 2.5l-3.0 .5l-10.2 .7zM359.2 261.5l-11.2 -.2l-2.2 -.2l-1.6 -.3l-1.4 -.8l-1.3 -1.5l-.4 -1.7l.3 -1.8l.6 -1.2l2.1 -2.8l5.3 -6.5l8.8 -8.4l4.3 -3.5l1.7 -1.2l2.6 -1.0l3.7 -1.0l2.5 -.3l3.8 -.1l2.2 .2l2.0 .5l2.2 .9l2.1 1.4l1.5 1.8l1.3 2.4l.8 2.8l.3 2.8l-.3 2.0l-1.5 6.4l-1.5 3.0l-1.9 2.8l-1.2 1.1l-1.6 .8l-4.2 1.7l-2.5 .7l-2.7 .4l-12.6 .8z" fill="none" stroke="#000" stroke-width="0.55"/><path d="M358.8 258.0l-8.0 0l-3.3 -.2l-1.5 -.6l-.4 -.4l0 -.8l.5 -1.2l1.4 -2.2l4.0 -5.1l7.6 -7.0l5.4 -4.3l1.0 -.5l1.3 -.3l1.2 0l1.0 .2l1.1 .6l1.9 2.8l1.5 1.2l3.3 1.6l4.7 .7l.8 .5l.7 .9l.9 3.1l.1 1.2l-.1 1.0l-.6 1.6l-1.3 1.9l-1.0 1.1l-1.0 .7l-4.2 1.7l-2.6 .8l-14.4 1.0zM361.2 256.5l-5.4 .2l-6.3 -.1l-1.6 -.4l-.3 -.2l-.1 -.5l.5 -1.3l1.2 -2.0l3.0 -3.7l9.3 -7.6l3.2 -2.9l1.1 -.7l1.4 -.4l1.3 .2l.7 .7l1.8 2.4l1.5 1.2l4.0 1.9l4.3 .8l.6 .4l.4 .5l.6 2.2l-.2 1.7l-1.4 2.4l-1.7 1.5l-3.5 1.4l-2.4 .8l-12.0 1.5zM359.5 254.8l-3.5 .2l-3.1 -.2l-1.7 -.7l-.3 -.3l0 -.8l.5 -1.2l1.1 -1.5l1.5 -1.3l1.5 -1.0l3.7 -1.6l7.6 -2.2l1.3 -.7l1.7 -1.2l1.2 .2l2.0 .7l4.2 2.0l.5 .6l-.2 .4l-.6 .6l-5.0 3.4l-2.9 1.7l-4.5 1.8l-5.0 1.1z" fill="none" stroke="#fff" stroke-width="0.38" stroke-dasharray="0.8 1.5"/></g>
<g clip-path="url(#k4)"><path d="M343.2 277.3l-.7 0l-.5 -.3l-.9 -1.8l-.5 -3.0l-.1 -4.0l.6 -3.7l.9 -3.2l1.2 -2.2l.8 -.5l.5 0l.7 .4l.6 .7l1.7 4.2l.5 .5l.5 -.1l1.3 -.9l.7 -.4l.7 .1l.8 .7l.7 1.4l.5 1.8l.2 2.0l0 2.2l-.6 3.4l-.6 1.2l-.7 .8l-.7 .1l-1.0 -.7l-2.0 -4.2l-.6 -.3l-.7 .8l-2.0 3.8l-1.3 1.2zM343.0 280.3l-.8 0l-.7 -.4l-.7 -1.2l-.6 -1.5l-.6 -4.0l0 -5.0l.7 -5.0l1.2 -4.1l.7 -1.5l.8 -1.1l.8 -.6l1.0 -.3l.7 .4l.5 .4l2.2 3.3l.8 .3l1.5 -.1l.7 .2l.8 .5l.8 .9l.8 2.0l.6 2.5l.3 3.0l-.1 3.0l-.3 2.5l-.6 2.3l-.7 1.6l-1.0 1.1l-.8 .3l-1.0 -.4l-.8 -.7l-1.4 -2.1l-.8 -.4l-.8 .4l-2.2 3.0l-1.0 .7z" fill="none" stroke="#000" stroke-width="0.5"/></g>
<g><path d="M363.8 273.0l-1.4 0l-.4 -1.0l.4 -2.2l1.2 -2.6l1.2 -1.2l2.0 -1.3l1.7 -.6l1.1 .1l.4 1.0l-.2 1.6l-.6 1.7l-.8 1.5l-.9 1.0l-1.3 .9l-2.4 1.1z" fill="#000"/><path d="M363.2 274.0l-1.0 .1l-.7 -.2l-.3 -.5l-.1 -.9l.6 -2.7l1.4 -3.0l1.7 -1.6l2.2 -1.4l2.0 -.7l1.0 0l.5 .1l.4 1.3l-.2 1.7l-.8 2.3l-1.1 2.0l-1.0 1.1l-1.6 1.1l-1.4 .8l-1.6 .5zM362.8 275.3l-1.3 .2l-1.0 -.2l-.4 -.5l-.1 -1.0l.1 -1.8l.5 -2.0l.7 -1.8l1.0 -1.7l1.7 -1.8l2.8 -1.8l2.7 -1.1l1.3 -.1l.7 .2l.3 .3l.2 1.0l-.1 2.3l-.8 2.5l-1.4 2.8l-1.2 1.3l-1.7 1.3l-2.0 1.2l-2.0 .7zM361.5 276.5l-1.3 .1l-.7 -.3l-.4 -.8l-.1 -1.5l.2 -2.0l.7 -2.2l1.0 -2.3l1.1 -1.7l2.2 -2.2l3.3 -2.0l3.0 -.9l1.3 -.1l.7 .3l.4 .6l.1 1.3l-.3 2.7l-1.0 3.0l-1.5 2.7l-1.4 1.6l-2.6 1.8l-2.4 1.3l-2.3 .6z" fill="none" stroke="#000" stroke-width="0.6"/></g>
<g clip-path="url(#k5)"><path d="M352.8 309.0l-3.3 .2l-3.5 -.4l-2.5 -.9l-3.0 -1.6l-2.5 -2.1l-2.4 -2.7l-2.8 -4.0l-1.4 -2.7l-.3 -1.6l.1 -1.2l.7 -1.5l1.7 -2.7l2.2 -3.0l2.4 -2.8l2.0 -1.8l1.8 -1.0l2.5 -.4l8.0 .4l1.5 .5l.8 1.1l.3 2.4l0 22.6l-.2 1.2l-.4 .9l-.7 .7l-1.0 .4z" fill="#000"/><path d="M352.2 309.5l-3.2 .1l-3.2 -.4l-2.8 -1.0l-2.8 -1.5l-2.7 -2.4l-2.4 -2.8l-2.8 -4.0l-1.4 -3.0l-.3 -1.5l.2 -1.2l.8 -1.6l1.9 -3.0l4.7 -5.7l2.3 -1.9l1.7 -.9l2.6 -.3l8.0 .5l1.4 .6l.9 1.3l.3 2.7l-.1 22.7l-.3 1.3l-.5 1.0l-1.0 .7l-1.3 .3zM352.2 310.0l-3.2 0l-3.5 -.4l-3.3 -1.2l-2.4 -1.4l-2.8 -2.5l-2.4 -3.0l-2.7 -4.0l-1.5 -3.3l-.2 -1.4l.2 -1.3l2.8 -4.5l5.0 -5.9l2.3 -2.0l1.7 -.9l2.6 -.4l8.2 .8l1.5 .6l.9 1.3l.3 2.7l-.1 23.0l-.3 1.6l-.8 1.2l-1.0 .7l-1.3 .3zM352.8 310.5l-3.6 0l-4.0 -.5l-3.4 -1.3l-2.2 -1.2l-2.9 -2.5l-2.4 -3.0l-2.7 -4.0l-1.8 -4.0l-.2 -1.2l.2 -1.3l2.8 -4.5l5.6 -6.4l2.3 -2.1l1.7 -.9l1.3 -.3l1.3 0l8.4 .9l1.6 .7l.8 1.3l.3 1.3l.1 1.7l-.1 23.3l-.3 1.5l-.8 1.4l-.8 .7l-1.2 .4zM353.8 311.0l-2.8 .2l-5.8 -.5l-3.2 -1.1l-2.5 -1.3l-3.0 -2.5l-1.9 -2.3l-3.2 -4.7l-2.3 -4.8l-.2 -1.5l.3 -1.3l2.9 -4.4l4.1 -4.8l2.8 -2.9l1.8 -1.5l1.4 -.8l1.3 -.2l1.3 -.1l8.7 1.2l1.5 .7l.5 .6l.5 1.0l.3 1.2l.1 1.8l-.1 23.2l-.3 1.8l-.6 1.5l-.6 .9l-1.0 .6zM353.5 312.0l-3.0 .1l-5.7 -.6l-3.8 -1.4l-2.2 -1.2l-3.3 -2.9l-2.1 -2.8l-2.9 -4.4l-2.3 -5.0l-.2 -1.6l.3 -1.2l3.3 -5.0l3.5 -4.0l3.9 -4.1l1.5 -1.2l1.7 -.8l1.3 -.2l1.5 -.1l9.0 1.4l1.0 .4l.7 .6l.9 1.8l.4 3.2l-.1 23.8l-.5 2.2l-.8 1.8l-.8 .8l-1.3 .4z" fill="none" stroke="#000" stroke-width="0.55"/><path d="M352.2 308.5l-3.0 .1l-3.1 -.4l-2.3 -.8l-3.0 -1.6l-2.3 -2.0l-2.5 -2.7l-2.8 -3.7l-1.2 -2.6l-.4 -1.6l.2 -1.2l.7 -1.5l1.6 -2.7l4.2 -5.3l1.9 -1.7l1.8 -1.0l2.2 -.3l8.3 .3l1.3 .4l.7 1.0l.2 2.6l0 22.0l-.2 1.0l-.5 .9l-.8 .5l-1.0 .3zM351.8 307.0l-2.8 .2l-2.5 -.3l-2.5 -.9l-2.5 -1.3l-2.0 -1.7l-2.5 -2.6l-2.5 -3.4l-1.1 -2.2l-.4 -1.3l.2 -1.3l.8 -1.8l1.5 -2.6l2.0 -2.8l1.5 -1.7l1.6 -1.3l1.6 -.9l2.0 -.3l7.3 .4l1.3 .2l.5 .6l.2 1.5l.1 7.7l-.1 13.8l-.2 1.0l-.3 .5l-1.2 .5zM346.5 304.5l-1.5 0l-1.9 -.5l-1.4 -.8l-1.7 -1.3l-2.0 -2.0l-1.7 -2.4l-1.3 -2.2l-.5 -1.5l0 -1.3l.5 -1.5l1.2 -2.5l1.6 -2.3l1.2 -1.5l1.2 -1.1l1.4 -.8l1.4 -.5l1.5 .1l1.6 .4l1.0 .4l.9 .8l1.1 1.5l.9 1.7l.8 2.0l.4 2.0l.3 2.3l-.1 2.3l-.2 2.0l-.5 2.0l-.9 1.7l-1.0 1.5l-1.2 1.0l-1.1 .5zM343.0 299.3l-1.8 -.5l-1.4 -1.3l-1.2 -2.0l-.6 -2.3l0 -2.2l.7 -2.0l1.3 -1.6l1.5 -.6l1.7 .2l1.0 .5l.8 .7l1.3 2.0l.7 2.6l-.1 2.4l-.7 2.0l-.7 1.0l-.7 .6l-.8 .3l-1.0 .2z" fill="none" stroke="#fff" stroke-width="0.38" stroke-dasharray="0.8 1.5"/></g>
<g clip-path="url(#k6)"><path d="M367.2 296.5l-.7 .1l-.7 -.3l-1.3 -1.0l-.9 -1.8l-.5 -2.3l.2 -2.4l.7 -2.0l1.0 -1.3l.8 -.4l.7 -.2l1.3 .4l1.2 1.2l.8 1.7l.4 2.0l-.2 2.3l-.5 1.8l-1.0 1.5l-1.3 .7z" fill="#000"/><path d="M367.5 297.6l-.7 .1l-1.0 -.1l-.8 -.4l-.8 -.7l-1.2 -2.0l-.7 -2.7l0 -3.0l.8 -2.6l1.2 -1.7l.9 -.6l.8 -.2l1.0 0l.8 .3l1.3 1.2l1.1 2.0l.6 2.6l-.1 2.4l-.6 2.6l-1.1 1.8l-1.5 1.0zM367.5 299.3l-1.0 .1l-1.3 -.2l-1.0 -.5l-1.0 -.9l-.8 -1.0l-.7 -1.6l-.6 -1.7l-.3 -1.7l.1 -3.6l.3 -1.7l.6 -1.5l.7 -1.3l.9 -.9l1.1 -.7l1.0 -.3l1.0 0l1.0 .3l1.0 .6l1.0 1.0l1.4 2.5l.7 3.0l0 3.6l-.8 3.0l-1.4 2.2l-.9 .7l-1.0 .6zM367.2 300.8l-1.2 .1l-1.5 -.2l-1.2 -.7l-1.1 -1.0l-.9 -1.2l-.9 -1.8l-.6 -1.8l-.4 -2.2l-.2 -2.2l.2 -2.3l.4 -2.0l.6 -1.7l.8 -1.6l1.0 -1.1l1.3 -.8l1.3 -.3l1.2 0l1.2 .4l1.3 .7l1.3 1.3l.9 1.4l.7 1.4l.6 1.8l.3 2.0l.1 2.0l-.1 2.0l-.9 3.5l-.9 1.6l-1.0 1.3l-1.0 .8l-1.3 .6zM366.8 302.3l-1.6 .1l-1.4 -.3l-1.3 -.6l-1.3 -1.3l-1.2 -1.5l-.9 -1.9l-.8 -2.3l-.4 -2.5l-.2 -2.8l.2 -2.4l.4 -2.6l.7 -1.9l1.0 -1.8l1.0 -1.2l1.2 -.9l1.6 -.4l1.4 .1l1.8 .6l1.5 .9l1.3 1.2l1.2 1.7l.8 1.7l.7 2.0l.4 2.3l.2 2.5l-.2 2.2l-.4 2.3l-.7 2.0l-1.0 1.8l-1.3 1.5l-1.3 .9l-1.4 .6zM366.0 303.8l-2.0 .2l-1.2 -.3l-1.3 -.8l-1.5 -1.5l-1.2 -1.8l-1.1 -2.1l-.7 -2.5l-.5 -2.8l-.2 -3.0l.2 -3.0l.4 -2.7l.8 -2.5l1.1 -2.2l1.2 -1.6l1.2 -.9l1.6 -.5l1.7 .1l1.7 .7l2.0 1.3l1.7 1.6l1.3 1.9l1.1 2.1l.8 2.5l.4 2.5l.2 2.7l-.3 2.8l-.6 2.5l-.9 2.3l-1.1 1.9l-1.6 1.6l-1.4 .9l-1.8 .6zM363.8 306.0l-1.0 .2l-1.0 -.5l-2.6 -2.7l-1.5 -2.2l-1.1 -2.3l-.8 -2.7l-.5 -2.8l-.2 -3.0l.1 -3.2l.4 -3.0l.6 -2.8l.9 -2.5l1.1 -2.0l1.6 -1.7l1.4 -1.0l1.6 -.3l1.7 .3l2.0 1.1l2.3 1.9l2.0 2.4l1.3 2.3l1.0 2.5l.8 3.0l.3 3.0l-.1 3.0l-.5 3.0l-.9 2.8l-1.2 2.1l-1.5 1.9l-1.5 1.3l-1.5 .8l-3.2 1.1zM362.5 312.0l-.3 -.2l-.8 -3.0l-.6 -1.3l-3.3 -4.3l-1.7 -3.4l-.8 -2.6l-.6 -2.7l-.4 -5.7l.2 -3.6l.5 -3.2l.8 -3.0l1.2 -2.8l1.3 -2.0l1.5 -1.6l1.5 -.9l1.8 -.3l2.0 .5l2.0 1.3l2.4 2.5l2.2 3.1l1.4 2.7l1.1 3.0l.6 3.3l.2 3.2l-.2 2.8l-.5 2.7l-.8 2.5l-1.1 2.2l-1.3 2.0l-1.6 1.5l-1.4 1.1l-2.6 1.3l-.7 .7l-.8 1.2l-.9 2.8l-.3 .2zM362.8 315.8l-.6 0l-.4 -.7l-1.2 -4.9l-.6 -1.4l-3.2 -4.3l-1.8 -3.7l-.9 -2.8l-.5 -2.8l-.5 -6.0l.1 -4.0l.6 -3.7l.8 -3.3l1.2 -3.0l1.4 -2.4l1.6 -1.8l2.0 -1.2l1.7 -.3l2.0 .4l2.3 1.4l2.2 2.4l2.5 3.7l1.6 3.1l1.2 3.5l.7 3.2l.2 3.6l-.1 2.7l-.5 2.7l-.7 2.6l-.9 2.2l-1.4 2.2l-1.6 2.0l-1.8 1.6l-2.4 1.6l-.8 .8l-.7 1.6l-.9 4.0l-.6 1.0zM362.8 317.8l-.3 .1l-.5 -.3l-.5 -.8l-1.4 -5.0l-.6 -1.6l-3.2 -4.2l-2.0 -4.0l-.9 -3.0l-.6 -3.0l-.5 -3.2l-.1 -3.6l.2 -4.2l.5 -4.0l1.0 -3.8l1.3 -3.2l1.6 -2.7l1.7 -2.0l2.0 -1.2l2.0 -.4l1.3 .1l1.0 .3l2.0 1.3l2.2 2.5l2.3 3.6l2.1 4.0l1.2 3.5l.8 3.8l.3 3.7l-.1 2.7l-.5 3.0l-.7 2.8l-1.0 2.5l-1.3 2.3l-1.6 2.1l-1.5 1.6l-2.8 2.1l-.7 .9l-.7 1.5l-1.2 4.5l-.8 1.3zM363.0 323.3l-.2 -.4l.2 -.1l.2 .2l-.2 .3zM364.5 324.5l-1.3 .2l-1.0 -.1l-.8 -.4l-.5 -.7l0 -.7l1.0 -2.0l.1 -1.0l-2.8 -8.0l-3.5 -4.6l-1.1 -2.0l-1.0 -2.4l-.9 -3.0l-.6 -2.8l-.7 -6.2l.1 -4.6l.4 -4.4l1.0 -4.3l1.4 -4.0l1.7 -3.2l2.0 -2.3l2.0 -1.4l2.2 -.6l2.3 .4l2.3 1.3l2.0 2.1l2.0 3.0l2.3 4.4l1.5 4.0l1.0 4.0l.5 4.3l0 3.3l-.5 3.4l-.8 3.0l-1.1 3.0l-1.3 2.3l-1.4 2.1l-2.0 2.2l-2.8 2.5l-1.0 1.9l-2.1 6.8l.5 1.0l2.1 1.8l.4 .4l-.4 .8l-1.2 .5zM361.2 325.0l-1.1 -.8l-.4 -.7l.1 -.7l1.1 -2.0l.1 -1.0l-1.5 -5.6l-.7 -1.4l-2.6 -2.9l-1.4 -2.1l-1.4 -3.0l-1.1 -3.0l-.8 -3.3l-.5 -3.5l-.3 -3.5l-.1 -3.5l.3 -4.5l.7 -4.5l1.2 -4.2l1.5 -3.6l1.7 -2.8l2.0 -2.1l2.2 -1.4l2.3 -.5l2.3 .5l2.2 1.3l2.0 2.1l1.9 2.9l2.2 4.6l1.8 4.4l1.1 4.3l.5 4.5l0 3.5l-.4 3.5l-.8 3.2l-1.1 3.3l-1.5 2.7l-1.7 2.7l-1.8 2.0l-3.0 3.0l-.7 1.3l-.5 1.6l-.9 3.2l.1 1.2l.8 1.0l2.3 1.3l.5 .7l-.1 .6l-.4 .4l-1.5 .8M360.0 325.0l-.9 -.8l-.4 -1.0l.2 -.7l1.1 -1.5l.4 -1.0l-.1 -1.5l-.8 -2.5l-1.0 -1.9l-2.5 -2.9l-1.8 -2.7l-1.5 -3.3l-1.3 -4.0l-.8 -3.4l-.4 -3.6l-.3 -3.7l.1 -3.7l.4 -4.8l.8 -4.5l1.2 -4.0l1.6 -3.7l2.0 -3.0l2.0 -2.1l2.2 -1.3l2.3 -.4l2.3 .4l2.2 1.3l2.0 2.0l1.9 2.8l2.2 4.5l2.0 5.2l1.2 4.6l.6 4.0l.1 3.7l-.3 3.7l-.8 3.8l-1.1 3.2l-1.5 3.3l-2.1 3.4l-1.7 2.2l-3.3 3.4l-.7 1.5l-.6 2.0l-.2 1.2l.3 1.0l.8 .7l2.3 1.1l.8 1.0l-.1 1.0l-1.2 1.0" fill="none" stroke="#000" stroke-width="0.6"/></g>
<path d='M350 252h20M356 245.5h12' stroke='#fff' stroke-width='0.5' stroke-dasharray='1 1.2'/>
<!-- gates -->
<g fill="none" stroke="#222" stroke-width="0.9">
  <rect x="195.7" y="230.2" width="50" height="30.5"/>
  <path d="M208.75 261V315M208.75 270.6H181.2V314H208.75M208.75 315H234.3V261"/>
  <rect x="340.6" y="230.2" width="49.9" height="30.5"/>
  <path d="M353.3 261V314M353.3 270.4H326.6V314H353.3M353.3 314H379.3V261"/>
</g>
<g class="b" font-size="7.2" font-weight="bold" fill="#111">
  <text x="176.9" y="248.6">30.4</text>
  <text x="163.7" y="295">45.7</text>
  <text x="240.4" y="291.2">21.3</text>
  <text x="321.2" y="248.9">39.7</text>
  <text x="309.3" y="295.6">33.5</text>
  <text x="384.6" y="291">22.8</text>
</g>

<!-- axis arrows -->
<g stroke="#111" stroke-width="0.9" fill="none">
  <path d="M130.5 249V349.3H360"/>
</g>
<path d="M130.5 245.6L128.8 250L132.2 250Z" fill="#111"/>
<path d="M363.6 349.3L359.2 347.6L359.2 351Z" fill="#111"/>
<text transform="translate(119.4,301.8) rotate(-90)" font-size="10.3" text-anchor="middle">Phagocytosis</text>
<text x="229.2" y="363.9" font-size="10.3">Respiratory Burst</text>
</svg>
</body></html>
